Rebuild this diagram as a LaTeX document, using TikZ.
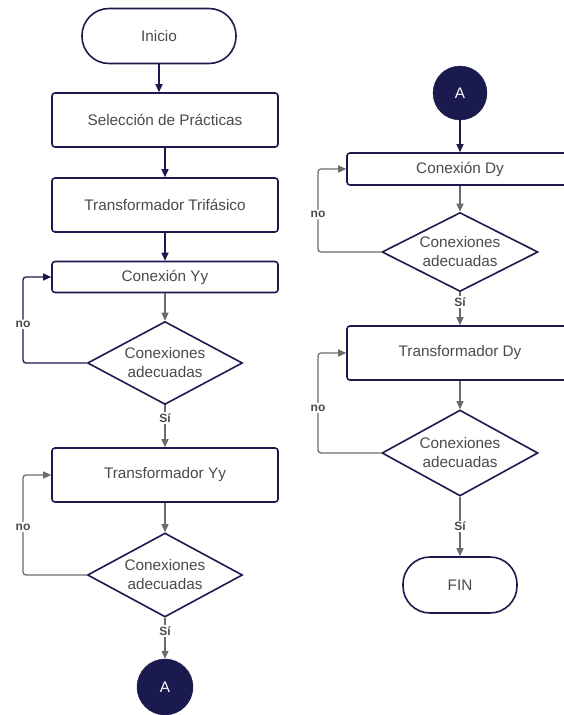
\documentclass[tikz,border=0pt]{standalone}
\usepackage{fontspec}
\setmainfont{Liberation Sans}
\usetikzlibrary{shapes.geometric,arrows.meta}
\definecolor{navy}{HTML}{1B1A4F}
\definecolor{linegray}{HTML}{6B6B6E}
\definecolor{txt}{HTML}{4A4A4A}
\tikzset{
  mainfont/.style={font=\fontsize{15.3}{19}\selectfont},
  base/.style={draw=navy,line width=1.6pt,text=txt,mainfont,inner sep=0pt,align=center},
  procbox/.style={base,rectangle,rounded corners=3pt,minimum width=226pt},
  terminal/.style={base,rectangle,rounded corners=27pt,minimum height=55pt},
  decision/.style={base,diamond,aspect=1.87,minimum width=155pt,minimum height=83pt},
  connector/.style={circle,fill=navy,draw=navy,text=white,minimum size=56pt,inner sep=0pt,mainfont},
  flowN/.style={draw=navy,line width=1.3pt,-{Triangle[width=7pt,length=8pt]}},
  flowG/.style={draw=linegray,line width=1.3pt,-{Triangle[width=7pt,length=8pt]}},
  tag/.style={fill=white,text=txt,inner sep=1.5pt,font=\fontsize{12}{14}\selectfont\bfseries}
}
\begin{document}
\begin{tikzpicture}[x=1pt,y=-1pt]
\useasboundingbox (0,0) rectangle (564,715);
\begin{scope}
\clip (0,0) rectangle (564,715);
% left column
\node[terminal,minimum width=154pt] (inicio) at (159,36) {Inicio};
\node[procbox,minimum height=54pt] (sel) at (165,120) {Selección de Prácticas};
\node[procbox,minimum height=54pt] (tri) at (165,205) {Transformador Trifásico};
\node[procbox,minimum height=31pt] (cyy) at (165,277) {Conexión Yy};
\node[decision] (d1) at (165,363) {Conexiones\\adecuadas};
\node[procbox,minimum height=54pt] (tyy) at (165,475) {Transformador Yy};
\node[decision,minimum height=84pt] (d2) at (165,575) {Conexiones\\adecuadas};
\node[connector] (a1) at (165,687) {A};
% right column
\node[connector,minimum size=54pt] (a2) at (460,93) {A};
\node[procbox,minimum width=233pt,minimum height=32pt] (cdy) at (463.5,169) {};
\node[text=txt,mainfont] at (460,169) {Conexión Dy};
\node[decision,minimum width=156pt,minimum height=79pt] (d3) at (460,252) {Conexiones\\adecuadas};
\node[procbox,minimum width=233pt,minimum height=54pt] (tdy) at (463.5,353) {};
\node[text=txt,mainfont] at (460,353) {Transformador Dy};
\node[decision,minimum width=156pt,minimum height=86pt] (d4) at (460,453) {Conexiones\\adecuadas};
\node[terminal,minimum width=114pt,minimum height=56pt,rounded corners=27pt] (fin) at (460,585) {FIN};

% coordinates for the return loops
\coordinate (l1) at (23,0);
\coordinate (l3) at (318,0);

% main flow, left
\draw[flowN] (inicio.south) -- (inicio.south|-sel.north);
\draw[flowN] (sel.south) -- (tri.north);
\draw[flowN] (tri.south) -- (cyy.north);
\draw[flowG] (cyy.south) -- (d1.north);
\draw[flowG] (d1.south) -- node[tag,pos=0.3]{Sí} (tyy.north);
\draw[flowG] (tyy.south) -- (d2.north);
\draw[flowG] (d2.south) -- node[tag,pos=0.32]{Sí} (a1.north);
% return loops, left
\draw[flowN,rounded corners=3pt] (d1.west) -- (l1|-d1.west) -- node[tag,pos=0.45]{no} (l1|-cyy.west) -- (cyy.west);
\draw[flowG,rounded corners=3pt] (d2.west) -- (l1|-d2.west) -- node[tag,pos=0.48]{no} (l1|-tyy.west) -- (tyy.west);

% main flow, right
\draw[flowN] (a2.south) -- (a2.south|-cdy.north);
\draw[flowG] (d3.north|-cdy.south) -- (d3.north);
\draw[flowG] (d3.south) -- node[tag,pos=0.3]{Sí} (d3.south|-tdy.north);
\draw[flowG] (d4.north|-tdy.south) -- (d4.north);
\draw[flowG] (d4.south) -- node[tag,pos=0.5]{Sí} (fin.north);
% return loops, right
\draw[flowG,rounded corners=3pt] (d3.west) -- (l3|-d3.west) -- node[tag,pos=0.45]{no} (l3|-cdy.west) -- (cdy.west);
\draw[flowG,rounded corners=3pt] (d4.west) -- (l3|-d4.west) -- node[tag,pos=0.45]{no} (l3|-tdy.west) -- (tdy.west);
\end{scope}
\end{tikzpicture}
\end{document}
